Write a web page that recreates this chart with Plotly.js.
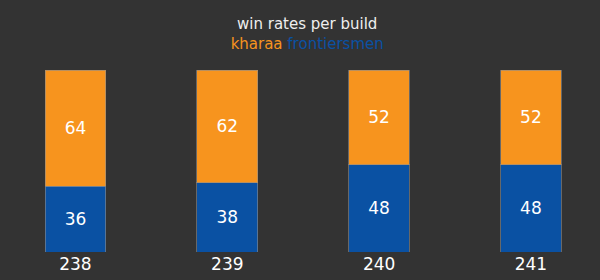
<!DOCTYPE html>
<html>
<head>
<meta charset="utf-8">
<script src="https://cdn.plot.ly/plotly-3.0.1.min.js"></script>
<style>html,body{margin:0;padding:0;background:#333333;}</style>
</head>
<body>
<div id="chart" style="width:600px;height:280px;"></div>
<script>
const builds = ["238", "239", "240", "241"];
const frontiersmen = [36, 38, 48, 48];
const kharaa = [64, 62, 52, 52];
const seriesNames = ["kharaa", "frontiersmen"];
const chartTitle = "win rates per build";

const orange = "#f7941e";
const blue = "#0a51a3";

const traces = [
  {
    type: "bar", name: seriesNames[1], x: builds, y: frontiersmen,
    text: frontiersmen.map(String), textposition: "inside", insidetextanchor: "middle",
    textfont: {color: "#ffffff", size: 17, family: "DejaVu Sans"},
    marker: {color: blue, line: {color: "rgba(140,140,140,0.6)", width: 1}},
    hoverinfo: "none"
  },
  {
    type: "bar", name: seriesNames[0], x: builds, y: kharaa,
    text: kharaa.map(String), textposition: "inside", insidetextanchor: "middle",
    textfont: {color: "#ffffff", size: 17, family: "DejaVu Sans"},
    marker: {color: orange, line: {color: "rgba(140,140,140,0.6)", width: 1}},
    hoverinfo: "none"
  }
];

const layout = {
  width: 600, height: 280,
  paper_bgcolor: "#333333", plot_bgcolor: "#333333",
  margin: {l: 0, r: 0, t: 70, b: 28, pad: 0},
  barmode: "stack", bargap: 0.6,
  showlegend: false,
  font: {family: "DejaVu Sans", color: "#ffffff"},
  title: {
    text: chartTitle + "<br><span style='color:" + orange + "'>" + seriesNames[0] +
          "</span> <span style='color:" + blue + "'>" + seriesNames[1] + "</span>",
    font: {size: 15, color: "#eeeeee", family: "DejaVu Sans"},
    x: 0.512, xanchor: "center", y: 0.895, yanchor: "top", yref: "container"
  },
  xaxis: {
    type: "category", range: [-0.497, 3.455],
    showgrid: false, zeroline: false, showline: false, ticks: "",
    tickfont: {size: 17, color: "#ffffff", family: "DejaVu Sans"}
  },
  yaxis: {
    range: [0, 100], visible: false, showgrid: false, zeroline: false
  }
};

Plotly.newPlot("chart", traces, layout, {displayModeBar: false, staticPlot: true});
</script>
</body>
</html>
